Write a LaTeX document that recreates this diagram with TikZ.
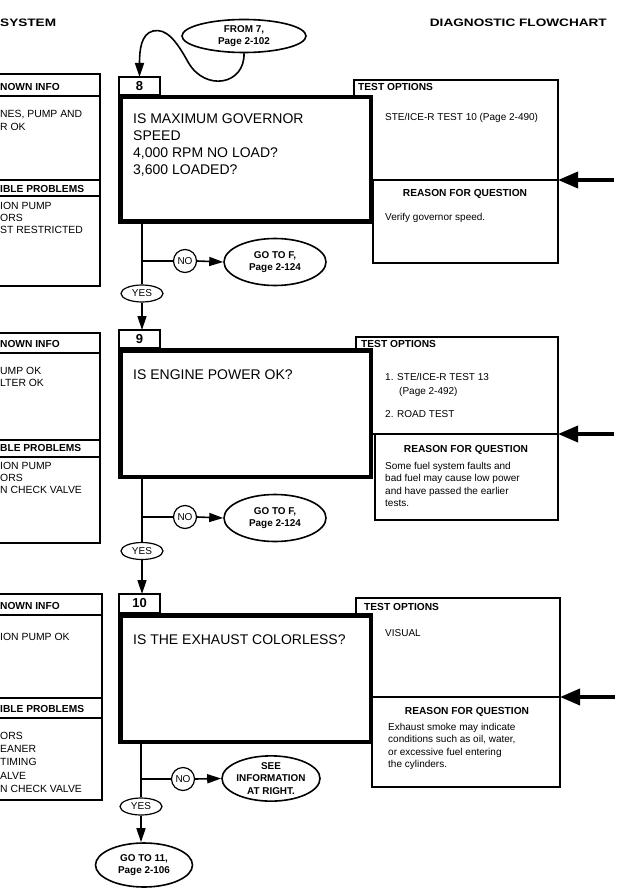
\documentclass[tikz,border=0pt]{standalone}
\usepackage{fontspec}
\usepackage{graphicx}
\setmainfont{Liberation Sans}
\usetikzlibrary{shapes.geometric,arrows.meta}
\begin{document}
\begin{tikzpicture}[x=1pt,y=-1pt,
  thinbox/.style={draw, line width=1.2pt, inner sep=0pt, outer sep=0pt, anchor=north west, fill=white},
  bigbox/.style={draw, line width=4.5pt, inner sep=0pt, outer sep=0pt, anchor=north west, fill=white},
  lbl/.style={thinbox, minimum width=41pt, font=\fontsize{13}{15}\selectfont\bfseries},
  body/.style={font=\fontsize{10}{12.5}\selectfont, inner sep=0pt, anchor=north west, align=left},
  lbody/.style={body, font=\fontsize{10.4}{12.5}\selectfont},
  hdrl/.style={font=\fontsize{10.2}{12}\selectfont\bfseries, inner sep=0pt, anchor=north west},
  hdrc/.style={font=\fontsize{10.2}{12}\selectfont\bfseries, inner sep=0pt, anchor=north},
  qtext/.style={font=\fontsize{14}{16.8}\selectfont, inner sep=0pt, anchor=north west, align=left},
  oval/.style={ellipse, draw, line width=1.6pt, fill=white, inner sep=0pt, align=center, font=\fontsize{9.9}{12.5}\selectfont\bfseries},
  yesno/.style={ellipse, draw, line width=1.2pt, fill=white, inner sep=0pt, minimum width=42pt, minimum height=17pt, font=\fontsize{10}{12}\selectfont},
  nocirc/.style={circle, draw, line width=1.2pt, fill=white, inner sep=0pt, minimum size=23pt, font=\fontsize{10}{12}\selectfont},
  conn/.style={line width=1.6pt},
  arr/.style={conn, -{Triangle[length=14pt,width=9pt]}},
  bigarr/.style={line width=3.6pt, -{Triangle[length=20pt,width=16pt]}},
  ttl/.style={inner sep=0pt, font=\fontsize{10.8}{13}\selectfont\bfseries}
]
\useasboundingbox (0,0) rectangle (622,890);
\fill[white] (0,0) rectangle (622,890);
\clip (0,0) rectangle (622,890);

% titles
\node[ttl, anchor=base west] (ttlA) at (0,27) {\scalebox{1.26}[1]{SYSTEM}};
\node[ttl, anchor=base east] (ttlB) at (607,27) {\scalebox{1.26}[1]{DIAGNOSTIC FLOWCHART}};

% ================= SECTION 8 =================
\node[thinbox, minimum width=120pt, minimum height=22pt] (kh8) at (-20,74) {};
\node[thinbox, minimum width=120pt, minimum height=84pt] (kb8) at (-20,96) {};
\node[thinbox, minimum width=120pt, minimum height=16pt] (ph8) at (-20,180) {};
\node[thinbox, minimum width=120pt, minimum height=90pt] (pb8) at (-20,196) {};
\node[hdrl] (kt8) at (0,83) {NOWN INFO};
\node[lbody, font=\fontsize{10.4}{12.8}\selectfont] (ki8) at (0,110) {NES, PUMP AND\\R OK};
\node[hdrl] (pt8) at (0,185) {IBLE PROBLEMS};
\node[lbody, font=\fontsize{10.4}{12}\selectfont] (pi8) at (0,202) {ION PUMP\\ORS\\ST RESTRICTED};

\node[thinbox, minimum width=204pt, minimum height=100pt] (to8) at (354,80) {};
\node[thinbox, minimum width=185pt, minimum height=83pt] (rq8) at (373,180) {};
\node[hdrl] (tot8) at (358,83) {TEST OPTIONS};
\node[body] (toi8) at (385,113) {STE/ICE-R TEST 10 (Page 2-490)};
\node[hdrc] (rqt8) at (465,189) {REASON FOR QUESTION};
\node[body] (rqi8) at (385,213) {Verify governor speed.};

\node[bigbox, minimum width=250.5pt, minimum height=124.5pt] (q8) at (120.25,97.25) {};
\node[qtext] (qt8) at (133,114) {IS MAXIMUM GOVERNOR\\SPEED\\4,000 RPM NO LOAD?\\3,600 LOADED?};
\node[lbl, minimum height=18pt] (l8) at (119,77) {8};

\node[oval, minimum width=124pt, minimum height=33pt] (from7) at (244,36) {FROM 7,\\Page 2-102};
\draw[arr] (from7.south) .. controls (245,85) and (205,92) .. (188,62)
  .. controls (176,40) and (166,28) .. (153,31)
  .. controls (141,34) and (139.5,50) .. (l8.north);

\coordinate (ra8) at (614,180);
\draw[bigarr] (ra8) -- (to8.south east);

\node[yesno] (yes8) at (142,293.5) {YES};
\node[nocirc] (no8) at (185,261) {NO};
\node[oval, minimum width=102pt, minimum height=47pt] (go8) at (275,262) {GO TO F,\\Page 2-124};
\draw[conn] (q8.south -| yes8.north) -- (yes8.north);
\draw[conn] (no8.west -| yes8.north) -- (no8.west);
\draw[arr] (no8.east) -- (go8.west);

% ================= SECTION 9 =================
\node[thinbox, minimum width=120pt, minimum height=20pt] (kh9) at (-20,333) {};
\node[thinbox, minimum width=120pt, minimum height=87pt] (kb9) at (-20,353) {};
\node[thinbox, minimum width=120pt, minimum height=17pt] (ph9) at (-20,440) {};
\node[thinbox, minimum width=120pt, minimum height=86pt] (pb9) at (-20,457) {};
\node[hdrl] (kt9) at (0,340) {NOWN INFO};
\node[lbody, font=\fontsize{10.4}{12}\selectfont] (ki9) at (0,367) {UMP OK\\LTER OK};
\node[hdrl] (pt9) at (0,444) {BLE PROBLEMS};
\node[lbody, font=\fontsize{10.4}{11.8}\selectfont] (pi9) at (0,462) {ION PUMP\\ORS\\N CHECK VALVE};

\node[thinbox, minimum width=202pt, minimum height=97pt] (to9) at (356,337) {};
\node[thinbox, minimum width=183pt, minimum height=86pt] (rq9) at (375,434) {};
\node[hdrl] (tot9) at (361,340) {TEST OPTIONS};
\node[body] (toi9a) at (385,373) {1. STE/ICE-R TEST 13};
\node[body] (toi9b) at (399,387) {(Page 2-492)};
\node[body] (toi9c) at (385,410) {2. ROAD TEST};
\node[hdrc] (rqt9) at (466,445) {REASON FOR QUESTION};
\node[body] (rqi9) at (385,462) {Some fuel system faults and\\bad fuel may cause low power\\and have passed the earlier\\tests.};

\node[bigbox, minimum width=250.5pt, minimum height=126.5pt] (q9) at (120.25,350.25) {};
\node[qtext] (qt9) at (133,370) {IS ENGINE POWER OK?};
\node[lbl, minimum height=18pt] (l9) at (119,330) {9};

\coordinate (ra9) at (614,434);
\draw[bigarr] (ra9) -- (to9.south east);

\draw[arr] (yes8.south) -- (yes8.south |- l9.north);

\node[yesno] (yes9) at (142,551) {YES};
\node[nocirc] (no9) at (185,517) {NO};
\node[oval, minimum width=102pt, minimum height=47pt] (go9) at (275,518) {GO TO F,\\Page 2-124};
\draw[conn] (q9.south -| yes9.north) -- (yes9.north);
\draw[conn] (no9.west -| yes9.north) -- (no9.west);
\draw[arr] (no9.east) -- (go9.west);

% ================= SECTION 10 =================
\node[thinbox, minimum width=122pt, minimum height=21pt] (kh10) at (-20,594) {};
\node[thinbox, minimum width=122pt, minimum height=83pt] (kb10) at (-20,615) {};
\node[thinbox, minimum width=122pt, minimum height=20pt] (ph10) at (-20,698) {};
\node[thinbox, minimum width=122pt, minimum height=82pt] (pb10) at (-20,718) {};
\node[hdrl] (kt10) at (0,602) {NOWN INFO};
\node[lbody] (ki10) at (0,633) {ION PUMP OK};
\node[hdrl] (pt10) at (0,705) {IBLE PROBLEMS};
\node[lbody, font=\fontsize{10.4}{13.2}\selectfont] (pi10) at (0,732) {ORS\\EANER\\TIMING\\ALVE\\N CHECK VALVE};

\node[thinbox, minimum width=204pt, minimum height=99pt] (to10) at (356,598) {};
\node[thinbox, minimum width=188pt, minimum height=90pt] (rq10) at (372,697) {};
\node[hdrl] (tot10) at (364,603) {TEST OPTIONS};
\node[body] (toi10) at (385,629) {VISUAL};
\node[hdrc] (rqt10) at (467,707) {REASON FOR QUESTION};
\node[body] (rqi10) at (388,723) {Exhaust smoke may indicate\\conditions such as oil, water,\\or excessive fuel entering\\the cylinders.};

\node[bigbox, minimum width=250.5pt, minimum height=126.5pt] (q10) at (120.25,615.25) {};
\node[qtext] (qt10) at (133,635) {IS THE EXHAUST COLORLESS?};
\node[lbl, minimum height=19pt] (l10) at (119,594) {10};

\coordinate (ra10) at (615,697);
\draw[bigarr] (ra10) -- (to10.south east);

\draw[arr] (yes9.south) -- (yes9.south |- l10.north);

\node[yesno] (yes10) at (141,806.5) {YES};
\node[nocirc] (no10) at (183,779) {NO};
\node[oval, minimum width=98pt, minimum height=43pt] (see10) at (271,778.5) {SEE\\INFORMATION\\AT RIGHT.};
\node[oval, minimum width=97pt, minimum height=44pt] (go11) at (144,865) {GO TO 11,\\Page 2-106};
\draw[conn] (q10.south -| yes10.north) -- (yes10.north);
\draw[conn] (no10.west -| yes10.north) -- (no10.west);
\draw[arr] (no10.east) -- (see10.west);
\draw[arr] (yes10.south) -- (yes10.south |- go11.north);
\end{tikzpicture}
\end{document}
